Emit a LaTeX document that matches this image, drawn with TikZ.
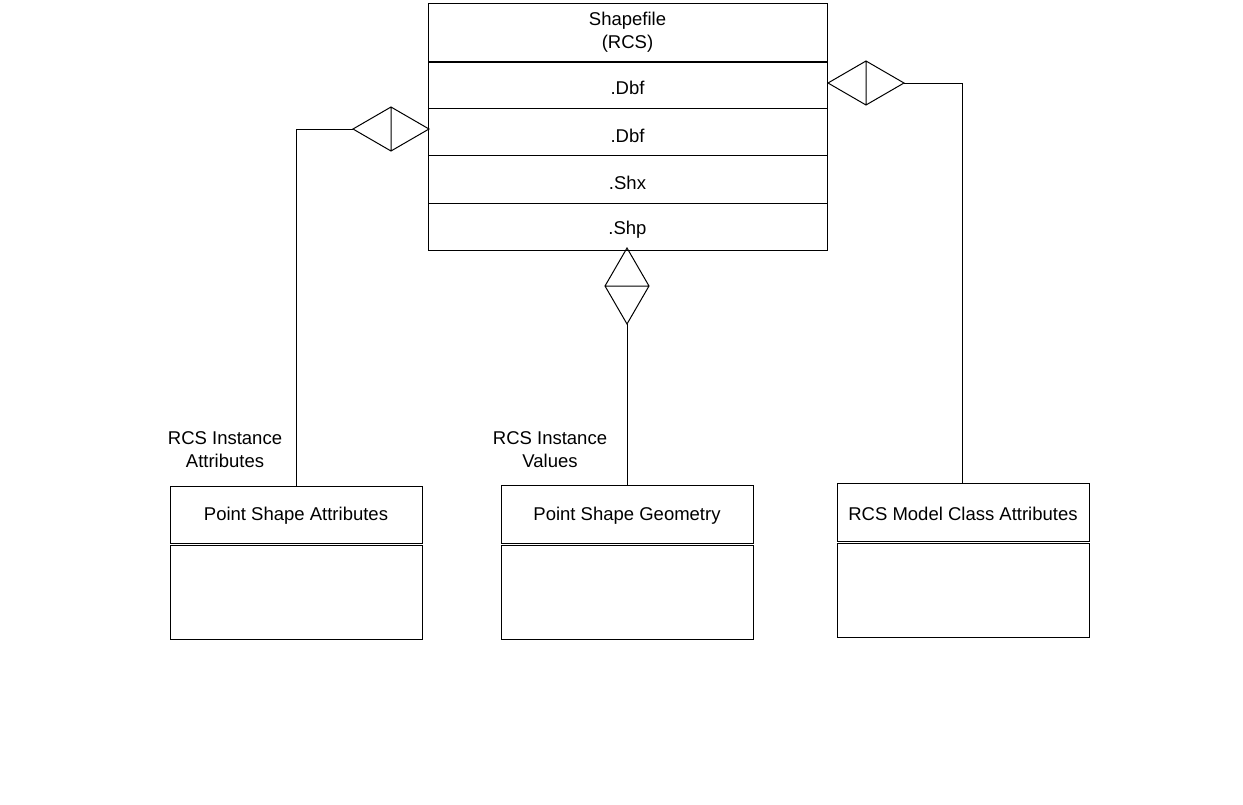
\documentclass[tikz,border=0pt]{standalone}
\usepackage{fontspec}
\setmainfont{Liberation Sans}
\begin{document}
\begin{tikzpicture}[x=1pt,y=-1pt,
  every node/.style={font=\fontsize{18.5}{23}\selectfont, inner sep=0pt},
  ln/.style={line width=1pt, black},
  lbl/.style={align=center}]
\useasboundingbox[fill=white] (0,0) rectangle (1243,804);
% top class
\draw[ln] (428,3) rectangle (827,250);
\draw[line width=2pt] (428,62) -- (827,62);
\draw[ln] (428,108) -- (827,108);
\draw[ln] (428,155) -- (827,155);
\draw[ln] (428,203) -- (827,203);
\node[lbl] (title) at (627.5,32) {Shapefile\\(RCS)};
\node (dbf1) at (627.5,87.5) {.Dbf};
\node (dbf2) at (627.5,135.5) {.Dbf};
\node (shx) at (627.5,182.5) {.Shx};
\node (shp) at (627.5,229.5) {.Shp};
% bottom classes
\draw[ln] (170,486) rectangle (422,543);
\draw[ln] (170,545) rectangle (422,639);
\node (psa) at (296,515.5) {Point Shape Attributes};
\draw[ln] (501,485) rectangle (753,543);
\draw[ln] (501,545) rectangle (753,639);
\node (psg) at (627,515.5) {Point Shape Geometry};
\draw[ln] (837,483) rectangle (1089,541);
\draw[ln] (837,543) rectangle (1089,637);
\node (rcs) at (963,513.5) {RCS Model Class Attributes};
% coordinates
\coordinate (lt) at (429,129);
\coordinate (ll) at (353,129);
\coordinate (lu) at (391,107);
\coordinate (ld) at (391,151);
\coordinate (rl) at (828,83);
\coordinate (rr) at (904,83);
\coordinate (ru) at (866,61);
\coordinate (rd) at (866,105);
\coordinate (bt) at (627,248);
\coordinate (bb) at (627,324);
\coordinate (bl) at (605,286);
\coordinate (br) at (649,286);
\coordinate (psaTop) at (296,486);
\coordinate (psgTop) at (627,485);
\coordinate (rcsTop) at (962,483);
% diamonds
\draw[ln] (lt) -- (lu) -- (ll) -- (ld) -- cycle (lu) -- (ld);
\draw[ln] (rl) -- (ru) -- (rr) -- (rd) -- cycle (ru) -- (rd);
\draw[ln] (bt) -- (bl) -- (bb) -- (br) -- cycle (bl) -- (br);
% connectors
\draw[ln] (ll) -- (296,129) -- (psaTop);
\draw[ln] (rr) -- (962,83) -- (rcsTop);
\draw[ln] (bb) -- (psgTop);
% role labels
\node[lbl] (r1) at (225,450) {RCS Instance\\Attributes};
\node[lbl] (r2) at (550,450) {RCS Instance\\Values};
\end{tikzpicture}
\end{document}
